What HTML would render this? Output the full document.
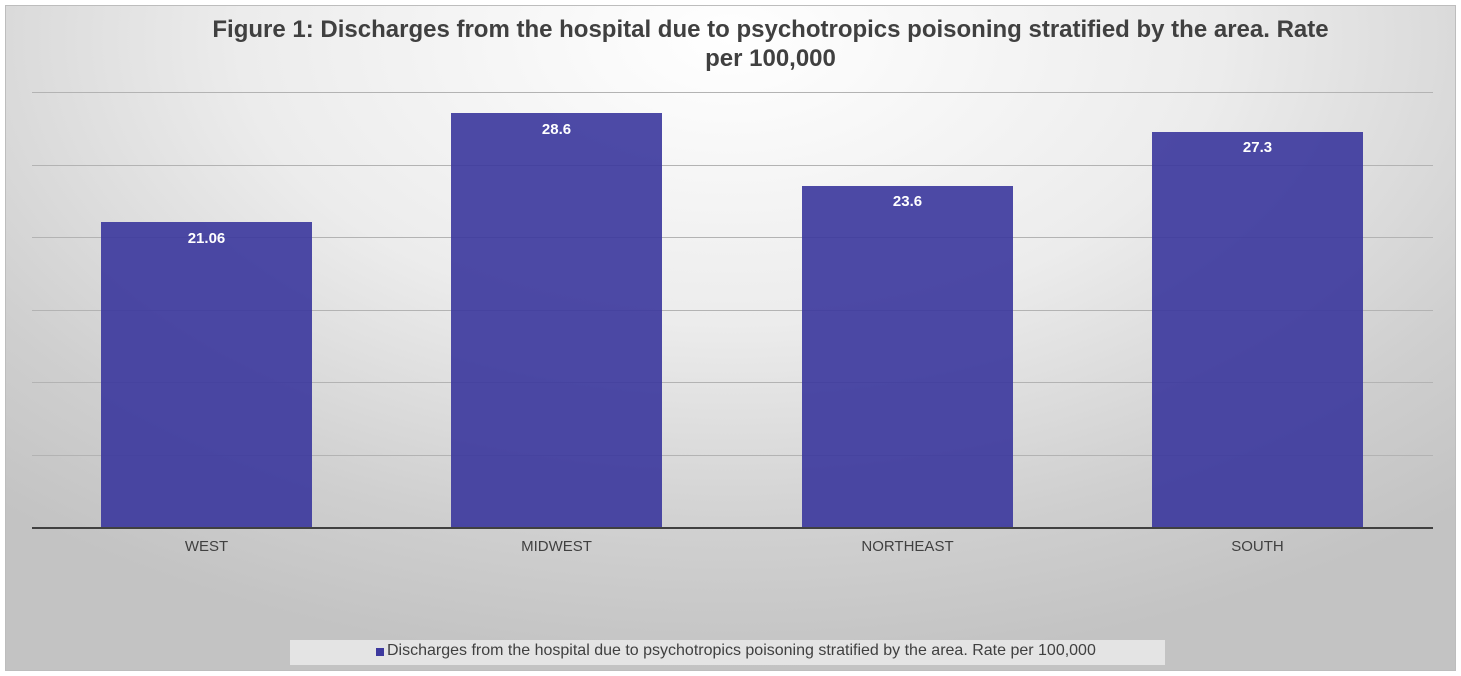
<!DOCTYPE html>
<html><head><meta charset="utf-8"><style>
html,body{margin:0;padding:0;background:#fff;}
body{width:1461px;height:676px;position:relative;overflow:hidden;font-family:"Liberation Sans",sans-serif;}
#frame{position:absolute;left:5px;top:5px;width:1451px;height:666px;border:1px solid #bdbdbd;box-sizing:border-box;
background:radial-gradient(ellipse 75% 95% at 50% 5%,#ffffff 0%,#ececec 45%,#cfcfcf 80%,#c3c3c3 100%);}
.t{position:absolute;left:40px;width:1461px;text-align:center;font-weight:bold;font-size:24px;color:#404040;white-space:nowrap;}
.g{position:absolute;left:32px;width:1401px;height:1px;background:#b3b3b3;}
.bar{position:absolute;width:211px;background:rgba(58,54,156,0.9);}
.v{position:absolute;width:211px;text-align:center;color:#fff;font-weight:bold;font-size:15px;}
.c{position:absolute;width:211px;text-align:center;color:#404040;font-size:15px;top:538px;}
</style></head><body>
<div id="frame"></div>
<div class="t" style="top:16px">Figure 1: Discharges from the hospital due to psychotropics poisoning stratified by the area. Rate</div>
<div class="t" style="top:45px">per 100,000</div>
<div class="g" style="top:92px"></div>
<div class="g" style="top:165px"></div>
<div class="g" style="top:237px"></div>
<div class="g" style="top:310px"></div>
<div class="g" style="top:382px"></div>
<div class="g" style="top:455px"></div>
<div class="bar" style="left:101px;top:222px;height:305px"></div>
<div class="bar" style="left:451px;top:113px;height:414px"></div>
<div class="bar" style="left:802px;top:186px;height:341px"></div>
<div class="bar" style="left:1152px;top:132px;height:395px"></div>
<div style="position:absolute;left:32px;top:527px;width:1401px;height:2px;background:#404040"></div>
<div class="v" style="left:101px;top:230px">21.06</div>
<div class="v" style="left:451px;top:121px">28.6</div>
<div class="v" style="left:802px;top:193px">23.6</div>
<div class="v" style="left:1152px;top:139px">27.3</div>
<div class="c" style="left:101px">WEST</div>
<div class="c" style="left:451px">MIDWEST</div>
<div class="c" style="left:802px">NORTHEAST</div>
<div class="c" style="left:1152px">SOUTH</div>
<div style="position:absolute;left:290px;top:640px;width:875px;height:25px;background:#e4e4e4"></div>
<div style="position:absolute;left:376px;top:648px;width:8px;height:8px;background:#3d399e"></div>
<div style="position:absolute;left:387px;top:642px;font-size:16px;color:#404040;white-space:nowrap">Discharges from the hospital due to psychotropics poisoning stratified by the area. Rate per 100,000</div>
</body></html>
